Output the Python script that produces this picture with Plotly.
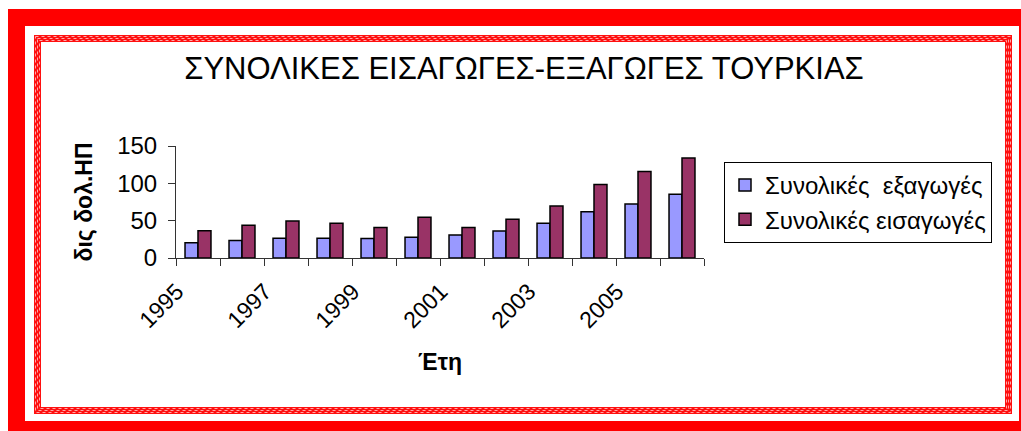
import plotly.graph_objects as go

years = ["1995", "1996", "1997", "1998", "1999", "2000", "2001", "2002", "2003", "2004", "2005", "2006"]
exports = [20.5, 23.5, 26.3, 26.3, 26.0, 27.8, 30.8, 36.1, 46.5, 62.0, 72.3, 85.3]
imports = [36.5, 44.0, 49.5, 46.5, 41.0, 54.5, 41.0, 51.8, 69.6, 98.5, 116.0, 134.0]
tick_text = [y if int(y) % 2 == 1 else "" for y in years]

title_text = "ΣΥΝΟΛΙΚΕΣ ΕΙΣΑΓΩΓΕΣ-ΕΞΑΓΩΓΕΣ ΤΟΥΡΚΙΑΣ"
name_exp = "Συνολικές\u00a0 εξαγωγές"
name_imp = "Συνολικές εισαγωγές"
y_title = "δις δολ.ΗΠ"
x_title = "Έτη"

W, H = 1021, 431
L, R, T, B = 176, 704, 146, 258
FONT = "Liberation Sans, Arial, sans-serif"


def px(x):
    return (x - L) / (R - L)


def py(y):
    return (B - y) / (B - T)


fig = go.Figure()
fig.add_trace(go.Bar(x=years, y=exports, name=name_exp,
                     marker=dict(color="#9999FF", line=dict(color="#000000", width=1.5))))
fig.add_trace(go.Bar(x=years, y=imports, name=name_imp,
                     marker=dict(color="#993366", line=dict(color="#000000", width=1.5))))

shapes = []
# solid outer red frame
for (x0, y0, x1, y1) in [(8, 9, 1021, 26), (8, 9, 25, 431), (8, 421, 1021, 431), (1019, 9, 1021, 431)]:
    shapes.append(dict(type="rect", xref="paper", yref="paper", layer="below",
                       x0=px(x0), x1=px(x1), y0=py(y0), y1=py(y1),
                       fillcolor="#FF0000", line=dict(width=0)))
# patterned inner frame
shapes.append(dict(type="rect", xref="paper", yref="paper", layer="below",
                   x0=px(37.5), x1=px(1008.5), y0=py(38.5), y1=py(410.5),
                   line=dict(color="#FF1010", width=7)))
for off in (-2, 0, 2):
    shapes.append(dict(type="rect", xref="paper", yref="paper", layer="below",
                       x0=px(37.5 + off), x1=px(1008.5 - off), y0=py(38.5 + off), y1=py(410.5 - off),
                       line=dict(color="#FFA8A8", width=1.0, dash="dot")))

fig.update_layout(
    width=W, height=H,
    margin=dict(l=L, r=W - R, t=T, b=H - B, autoexpand=False),
    paper_bgcolor="#FFFFFF", plot_bgcolor="#FFFFFF",
    font=dict(family=FONT, color="#000000"),
    barmode="group", bargap=0.41, bargroupgap=0.0,
    showlegend=True,
    title=dict(text=title_text, x=px(524), xref="paper", xanchor="center",
               y=1 - 68 / H, yanchor="middle",
               font=dict(family=FONT, size=31, color="#000000")),
    legend=dict(x=px(724), y=py(162), xanchor="left", yanchor="top",
                bordercolor="#000000", borderwidth=1, bgcolor="#FFFFFF",
                font=dict(family=FONT, size=24, color="#000000"),
                tracegroupgap=4),
    shapes=shapes,
    xaxis=dict(type="category", tickmode="array", tickvals=years, ticktext=tick_text,
               tickson="boundaries", ticks="outside", ticklen=7, tickcolor="#333333",
               tickangle=-45, tickfont=dict(family=FONT, size=23),
               ticklabelshift=-21, ticklabelstandoff=10,
               showline=True, linecolor="#333333", linewidth=1,
               showgrid=False, zeroline=False,
               title=dict(text="<b>" + x_title + "</b>", font=dict(family=FONT, size=23), standoff=21)),
    yaxis=dict(range=[0, 150], tickvals=[0, 50, 100, 150], ticks="outside", ticklen=7,
               tickcolor="#333333", tickfont=dict(family=FONT, size=24),
               showline=True, linecolor="#333333", linewidth=1,
               showgrid=False, zeroline=False, ticklabelstandoff=6,
               title=dict(text="<b>" + y_title + "</b>", font=dict(family=FONT, size=23), standoff=18)),
)

fig.write_html("out.html")
